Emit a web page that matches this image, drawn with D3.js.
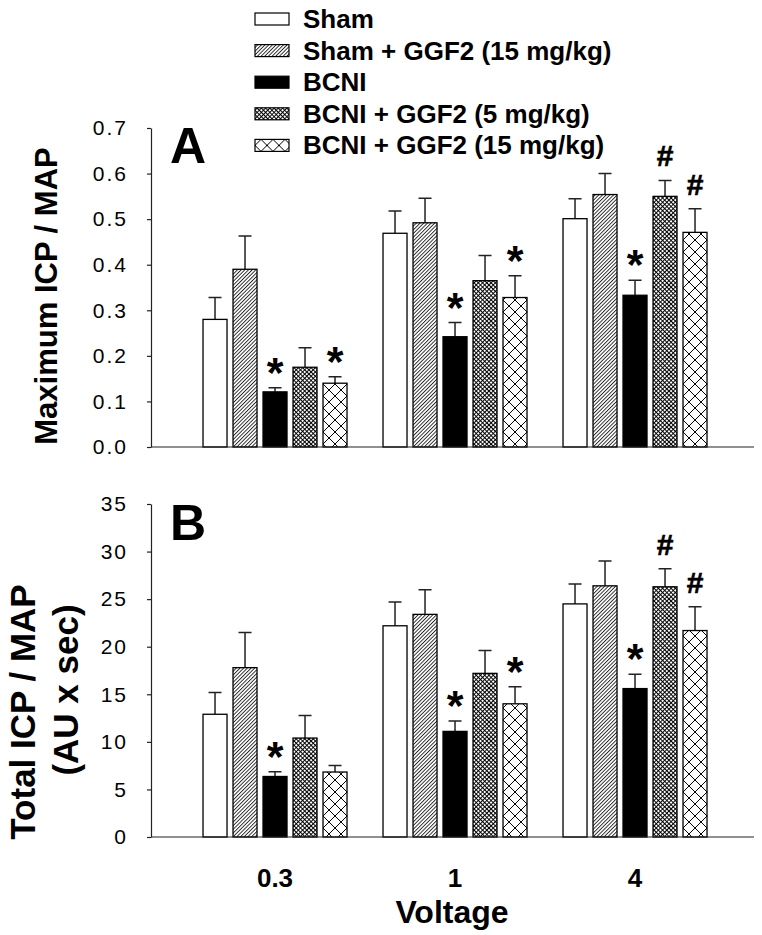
<!DOCTYPE html>
<html>
<head>
<meta charset="utf-8">
<script src="https://cdn.jsdelivr.net/npm/d3@7"></script>
<style>
  body { margin: 0; background: #fff; }
  text { font-family: "Liberation Sans", Arial, sans-serif; fill: #000; }
</style>
</head>
<body>
<svg id="chart" width="762" height="935"></svg>
<script>
// data
const voltages = ["0.3", "1", "4"];
const groups = ["Sham", "Sham + GGF2 (15 mg/kg)", "BCNI", "BCNI + GGF2 (5 mg/kg)", "BCNI + GGF2 (15 mg/kg)"];

// panel A : maximum ICP / MAP (rows = voltage, cols = group)
const maxMean = [[0.280, 0.390, 0.121, 0.175, 0.140],
                 [0.469, 0.492, 0.242, 0.365, 0.328],
                 [0.501, 0.554, 0.333, 0.550, 0.471]];
const maxErr  = [[0.048, 0.073, 0.009, 0.043, 0.014],
                 [0.049, 0.054, 0.031, 0.055, 0.048],
                 [0.044, 0.046, 0.033, 0.035, 0.052]];
const maxMarks = [["", "", "*", "", "*"],
                  ["", "", "*", "", "*"],
                  ["", "", "*", "#", "#"]];
const maxTicks = [0, 0.1, 0.2, 0.3, 0.4, 0.5, 0.6, 0.7];

// panel B : total ICP / MAP
const totMean = [[12.9, 17.8, 6.36, 10.4, 6.83],
                 [22.2, 23.4, 11.1, 17.2, 14.0],
                 [24.5, 26.4, 15.6, 26.3, 21.7]];
const totErr  = [[2.3, 3.7, 0.5, 2.37, 0.69],
                 [2.5, 2.6, 1.1, 2.4, 1.78],
                 [2.1, 2.6, 1.5, 1.9, 2.5]];
const totMarks = [["", "", "*", "", ""],
                  ["", "", "*", "", "*"],
                  ["", "", "*", "#", "#"]];
const totTicks = [0, 5, 10, 15, 20, 25, 30, 35];

const svg = d3.select("#chart");
const axisLeft = 151, axisRight = 754;

// patterns
const defs = svg.append("defs");
const hatch = defs.append("pattern").attr("id", "p1")
  .attr("patternUnits", "userSpaceOnUse").attr("width", 2.6).attr("height", 2.6)
  .attr("patternTransform", "rotate(45)");
hatch.append("rect").attr("width", 2.6).attr("height", 2.6).attr("fill", "#fff");
hatch.append("line").attr("x1", 0.5).attr("y1", 0).attr("x2", 0.5).attr("y2", 2.6)
  .attr("stroke", "#000").attr("stroke-width", 0.8);

const dense = defs.append("pattern").attr("id", "p3")
  .attr("patternUnits", "userSpaceOnUse").attr("width", 3).attr("height", 3)
  .attr("patternTransform", "rotate(45)");
dense.append("rect").attr("width", 3).attr("height", 3).attr("fill", "#fff");
dense.append("path").attr("d", "M0,0V3M0,0H3").attr("stroke", "#000").attr("stroke-width", 1.9);

const cross = defs.append("pattern").attr("id", "p4")
  .attr("patternUnits", "userSpaceOnUse").attr("width", 12).attr("height", 12);
cross.append("rect").attr("width", 12).attr("height", 12).attr("fill", "#fff");
cross.append("path").attr("d", "M0,0L12,12M12,0L0,12").attr("stroke", "#000").attr("stroke-width", 1);

const fills = ["#fff", "url(#p1)", "#000", "url(#p3)", "url(#p4)"];

const x0 = d3.scaleBand().domain(voltages).range([axisLeft, axisRight])
  .paddingInner(0).paddingOuter(0.175).align(0.54);
const x1 = d3.scaleBand().domain(d3.range(groups.length)).range([-75, 75])
  .paddingInner(0.2).paddingOuter(0.1);

function drawPanel(mean, err, marks, ticks, y, fmt) {
  const g = svg.append("g");
  const base = y(0);

  const vg = g.selectAll(".vg").data(voltages).join("g")
    .attr("transform", d => `translate(${x0(d) + x0.bandwidth() / 2},0)`);

  const cells = vg.selectAll(".cell")
    .data((v, vi) => groups.map((gname, gi) => ({ vi, gi, m: mean[vi][gi], e: err[vi][gi], mk: marks[vi][gi] })))
    .join("g");

  // error bars (up only)
  cells.append("path")
    .attr("d", d => {
      const cx = x1(d.gi) + x1.bandwidth() / 2;
      return `M${cx},${y(d.m)}V${y(d.m + d.e)}M${cx - 6.5},${y(d.m + d.e)}H${cx + 6.5}`;
    })
    .attr("stroke", "#222").attr("stroke-width", 1.5).attr("fill", "none");

  cells.append("rect")
    .attr("x", d => x1(d.gi))
    .attr("y", d => y(d.m))
    .attr("width", x1.bandwidth())
    .attr("height", d => base - y(d.m))
    .attr("fill", d => fills[d.gi])
    .attr("stroke", "#000").attr("stroke-width", 1.3);

  cells.filter(d => d.mk === "*").append("text")
    .attr("x", d => x1(d.gi) + x1.bandwidth() / 2)
    .attr("y", d => y(d.m + d.e) - 24 + 23)
    .attr("text-anchor", "middle")
    .style("font-size", "43px").style("font-weight", "bold")
    .text(d => d.mk);

  cells.filter(d => d.mk === "#").append("text")
    .attr("x", d => x1(d.gi) + x1.bandwidth() / 2)
    .attr("y", d => y(d.m + d.e) - 25 + 11)
    .attr("text-anchor", "middle")
    .style("font-size", "30px").style("font-weight", "bold")
    .attr("stroke", "#000").attr("stroke-width", 0.6)
    .text(d => d.mk);

  // x axis line (no ticks)
  g.append("line").attr("x1", axisLeft).attr("x2", axisRight)
    .attr("y1", base).attr("y2", base)
    .attr("stroke", "#222").attr("stroke-width", 1.2);

  // y axis
  const ya = g.append("g").attr("transform", `translate(${axisLeft},0)`)
    .call(d3.axisLeft(y).tickValues(ticks).tickFormat(fmt).tickSize(4).tickSizeOuter(0).tickPadding(19));
  ya.select(".domain").attr("stroke", "#222").attr("stroke-width", 1.2);
  ya.selectAll(".tick line").attr("stroke", "#222").attr("stroke-width", 1.2);
  ya.selectAll(".tick text")
    .style("font-family", '"Liberation Sans", Arial, sans-serif')
    .style("font-size", "21px").style("letter-spacing", "2px").attr("fill", "#111");
  return g;
}

const yA = d3.scaleLinear().domain([0, 0.7]).range([447, 128]);
const yB = d3.scaleLinear().domain([0, 35]).range([837, 504]);
drawPanel(maxMean, maxErr, maxMarks, maxTicks, yA, d3.format(".1f"));
drawPanel(totMean, totErr, totMarks, totTicks, yB, d3.format("d"));

// panel letters
svg.append("text").attr("x", 170).attr("y", 163)
  .style("font-size", "50px").style("font-weight", "bold").text("A");
svg.append("text").attr("x", 170).attr("y", 540)
  .style("font-size", "50px").style("font-weight", "bold").text("B");

// y titles
svg.append("text").attr("transform", "translate(57,296) rotate(-90)")
  .attr("text-anchor", "middle").style("font-size", "31px").style("font-weight", "bold")
  .text("Maximum ICP / MAP");
svg.append("text").attr("transform", "translate(35,712) rotate(-90)")
  .attr("text-anchor", "middle").style("font-size", "35px").style("font-weight", "bold")
  .text("Total ICP / MAP");
svg.append("text").attr("transform", "translate(78,690) rotate(-90)")
  .attr("text-anchor", "middle").style("font-size", "35px").style("font-weight", "bold")
  .text("(AU x sec)");

// x tick labels + title
svg.selectAll(".xl").data(voltages).join("text")
  .attr("x", d => x0(d) + x0.bandwidth() / 2).attr("y", 887)
  .attr("text-anchor", "middle").style("font-size", "26px").style("font-weight", "bold")
  .text(d => d);
svg.append("text").attr("x", 452).attr("y", 923)
  .attr("text-anchor", "middle").style("font-size", "32px").style("font-weight", "bold")
  .text("Voltage");

// legend
const leg = svg.append("g").selectAll("g").data(groups).join("g")
  .attr("transform", (d, i) => `translate(255,${19 + i * 31.6})`);
leg.append("rect").attr("x", 0).attr("y", -6).attr("width", 34).attr("height", 12)
  .attr("fill", (d, i) => fills[i]).attr("stroke", "#000").attr("stroke-width", 1.2);
leg.append("text").attr("x", 48).attr("y", 9)
  .style("font-size", "26px").style("font-weight", "bold").text(d => d);
</script>
</body>
</html>
